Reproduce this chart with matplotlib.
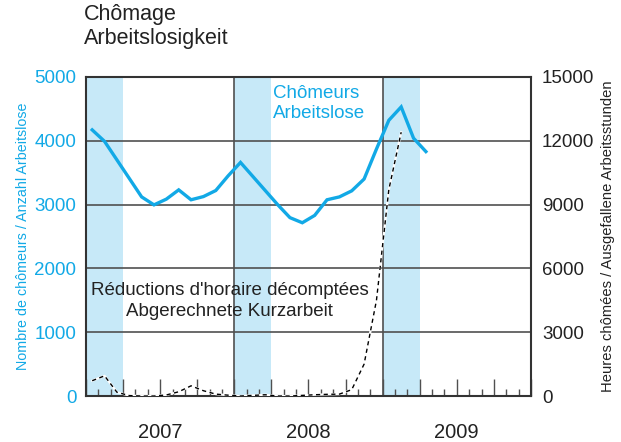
import matplotlib.pyplot as plt
import numpy as np

plt.rcParams['font.family'] = ['Liberation Sans', 'DejaVu Sans']

# monthly values, Jan 2007 .. Apr 2009 (unemployed)
chomeurs = [4170, 3990, 3700, 3410, 3120, 2995, 3085, 3230, 3075, 3125, 3220, 3450,
            3660, 3440, 3220, 3000, 2795, 2715, 2830, 3075, 3120, 3215, 3400, 3870,
            4320, 4530, 4040, 3830]
# short-time work hours, Jan 2007 .. Feb 2009
kurzarbeit = [720, 950, 180, 20, 0, 0, 50, 200, 480, 250, 90, 40,
              0, 30, 60, 0, 0, 30, 60, 80, 90, 300, 1500, 4500,
              9700, 12400]
years = ['2007', '2008', '2009']
left_ticks = [0, 1000, 2000, 3000, 4000, 5000]
right_ticks = [0, 3000, 6000, 9000, 12000, 15000]

blue = '#12a9e6'
band = '#c7e9f8'
grid = '#505050'
dark = '#222222'

fig = plt.figure(figsize=(6.21, 4.42), dpi=100)
ax = fig.add_axes([0.1385, 0.104, 0.7165, 0.722])
ax2 = ax.twinx()

# shaded first quarters
for y0 in (0, 12, 24):
    ax.axvspan(y0, y0 + 3, color=band, lw=0, zorder=0)

for v in left_ticks[1:-1]:
    ax.axhline(v, color=grid, lw=1.2, zorder=1)
for x in (12, 24):
    ax.axvline(x, color=grid, lw=1.2, zorder=1)

xm = np.arange(len(chomeurs)) + 0.5
ax.plot(xm, chomeurs, color=blue, lw=2.4, zorder=4, solid_joinstyle='miter')

xk = np.arange(len(kurzarbeit)) + 0.5
ax2.plot(xk, kurzarbeit, color='white', lw=1.6, zorder=3)
ax2.plot(xk, kurzarbeit, color='black', lw=1.0, ls=(0, (3, 2.5)), zorder=4)

ax.set_xlim(0, 36)
ax.set_ylim(0, 5000)
ax2.set_ylim(0, 15000)
ax.set_yticks(left_ticks)
ax2.set_yticks(right_ticks)
ax.set_yticklabels([str(v) for v in left_ticks], color=blue, fontsize=13.5)
ax2.set_yticklabels([str(v) for v in right_ticks], color=dark, fontsize=13.5)
ax.tick_params(axis='y', length=0, pad=7)
ax2.tick_params(axis='y', length=0, pad=8)

ax.set_xticks(np.arange(0, 37, 3))
ax.set_xticks(np.arange(0, 37, 1), minor=True)
ax.set_xticklabels([])
ax.tick_params(axis='x', which='major', direction='in', length=12.5, width=1, color=grid)
ax.tick_params(axis='x', which='minor', direction='in', length=5, width=1, color=grid)

for s in ax2.spines.values():
    s.set_visible(False)
for s in ax.spines.values():
    s.set_color('#333333')
    s.set_linewidth(1.5)
ax.set_zorder(ax2.get_zorder() - 1)
ax.patch.set_visible(True)
ax2.patch.set_visible(False)

for i, yr in enumerate(years):
    ax.text(i * 12 + 6, -0.115, yr, transform=ax.get_xaxis_transform(),
            ha='center', va='center', fontsize=14.5, color=dark)

ax.set_ylabel('Nombre de chômeurs / Anzahl Arbeitslose', color=blue, fontsize=10.3, labelpad=3)
ax2.set_ylabel('Heures chômées / Ausgefallene Arbeitsstunden', color=dark, fontsize=10.6, labelpad=5)

ax.text(15.1, 4870, 'Chômeurs\nArbeitslose', color=blue, fontsize=13.5,
        va='top', ha='left', linespacing=1.2)
ax.text(11.6, 1790, "Réductions d'horaire décomptées\nAbgerechnete Kurzarbeit", color=dark,
        fontsize=13.5, va='top', ha='center', linespacing=1.3, zorder=6)

fig.text(84 / 621, 1 - 4 / 442, 'Chômage\nArbeitslosigkeit', color=dark, fontsize=15.5,
         va='top', ha='left', linespacing=1.2)

fig.savefig('out.png', dpi=100)
